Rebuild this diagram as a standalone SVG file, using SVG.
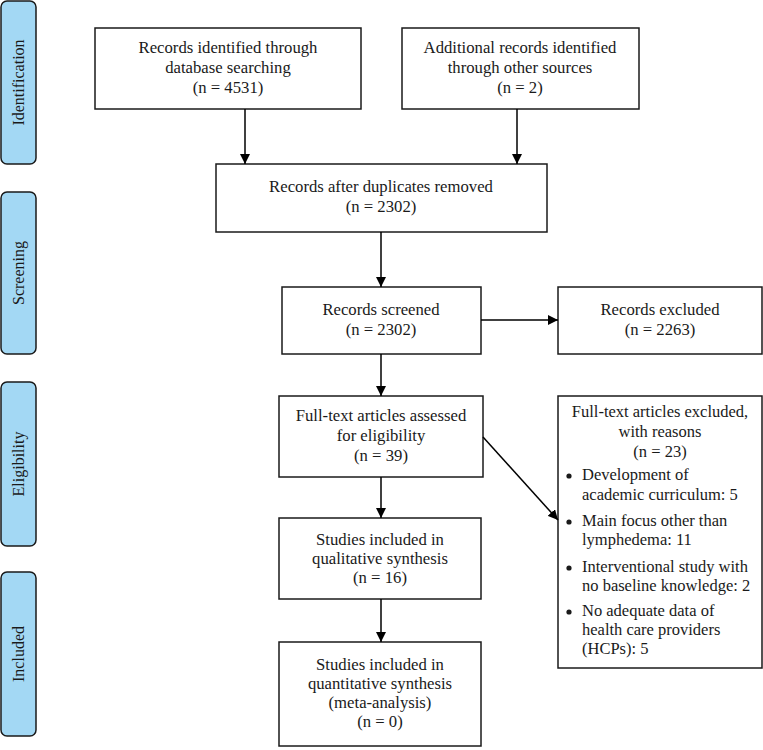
<svg xmlns="http://www.w3.org/2000/svg" width="763" height="750" viewBox="0 0 763 750">
<defs>
<marker id="ah" viewBox="0 0 10 10" refX="10" refY="5" markerWidth="10" markerHeight="10" markerUnits="userSpaceOnUse" orient="auto">
<path d="M0,0 L10,5 L0,10 z" fill="#000"/>
</marker>
<style>
.phase{fill:#a3d8f4;stroke:#1a1a1a;stroke-width:1.5}
.box{fill:#fff;stroke:#1a1a1a;stroke-width:1.5}
text{font-family:"Liberation Serif","Times New Roman",serif;font-size:16.7px;fill:#1a1a1a}
.c{text-anchor:middle}
.ph{text-anchor:middle;font-size:16px}
.ex{font-size:16.5px}
.ln{stroke:#000;stroke-width:1.5;fill:none;marker-end:url(#ah)}
</style>
</defs>
<rect width="763" height="750" fill="#fff"/>
<g id="phase-identification"><rect class="phase" x="1" y="1" width="35" height="163" rx="6"/><text class="ph" transform="translate(24,82.5) rotate(-90)">Identification</text></g>
<g id="phase-screening"><rect class="phase" x="1" y="192" width="35" height="162" rx="6"/><text class="ph" transform="translate(24,273) rotate(-90)">Screening</text></g>
<g id="phase-eligibility"><rect class="phase" x="1" y="382" width="35" height="164" rx="6"/><text class="ph" transform="translate(24,464) rotate(-90)">Eligibility</text></g>
<g id="phase-included"><rect class="phase" x="1" y="572" width="35" height="164" rx="6"/><text class="ph" transform="translate(24,654) rotate(-90)">Included</text></g>

<g id="n-db"><rect class="box" x="95" y="28" width="266" height="81"/>
<text class="c" x="228" y="53">Records identified through</text>
<text class="c" x="228" y="73">database searching</text>
<text class="c" x="228" y="93">(n = 4531)</text></g>
<g id="n-other"><rect class="box" x="402" y="28" width="237" height="81"/>
<text class="c" x="520" y="53">Additional records identified</text>
<text class="c" x="520" y="73">through other sources</text>
<text class="c" x="520" y="93">(n = 2)</text></g>
<g id="n-dup"><rect class="box" x="216" y="164" width="331" height="68"/>
<text class="c" x="381" y="192">Records after duplicates removed</text>
<text class="c" x="381" y="212">(n = 2302)</text></g>
<g id="n-screened"><rect class="box" x="282" y="287" width="199" height="67"/>
<text class="c" x="381" y="315">Records screened</text>
<text class="c" x="381" y="335">(n = 2302)</text></g>
<g id="n-excluded"><rect class="box" x="558" y="287" width="204" height="67"/>
<text class="c" x="660" y="315">Records excluded</text>
<text class="c" x="660" y="335">(n = 2263)</text></g>
<g id="n-fulltext"><rect class="box" x="279" y="396" width="204" height="81"/>
<text class="c" x="381" y="421">Full-text articles assessed</text>
<text class="c" x="381" y="441">for eligibility</text>
<text class="c" x="381" y="461">(n = 39)</text></g>
<g id="n-ftexcluded"><rect class="box" x="558" y="396" width="204" height="272"/>
<text class="c ex" x="660" y="417">Full-text articles excluded,</text>
<text class="c ex" x="660" y="437">with reasons</text>
<text class="c ex" x="660" y="457">(n = 23)</text>
<circle cx="569" cy="476" r="2.6" fill="#1a1a1a"/>
<text class="ex" x="582" y="480">Development of</text>
<text class="ex" x="582" y="500">academic curriculum: 5</text>
<circle cx="569" cy="522" r="2.6" fill="#1a1a1a"/>
<text class="ex" x="582" y="526">Main focus other than</text>
<text class="ex" x="582" y="545">lymphedema: 11</text>
<circle cx="569" cy="568" r="2.6" fill="#1a1a1a"/>
<text class="ex" x="582" y="572">Interventional study with</text>
<text class="ex" x="582" y="591">no baseline knowledge: 2</text>
<circle cx="569" cy="612" r="2.6" fill="#1a1a1a"/>
<text class="ex" x="582" y="616">No adequate data of</text>
<text class="ex" x="582" y="635">health care providers</text>
<text class="ex" x="582" y="654">(HCPs): 5</text></g>
<g id="n-qual"><rect class="box" x="279" y="518" width="202" height="81"/>
<text class="c" x="380" y="545">Studies included in</text>
<text class="c" x="380" y="564">qualitative synthesis</text>
<text class="c" x="380" y="583">(n = 16)</text></g>
<g id="n-quant"><rect class="box" x="279" y="642" width="202" height="104"/>
<text class="c" x="380" y="670">Studies included in</text>
<text class="c" x="380" y="689">quantitative synthesis</text>
<text class="c" x="380" y="708">(meta-analysis)</text>
<text class="c" x="380" y="727">(n = 0)</text></g>

<g id="connectors">
<line class="ln" x1="245" y1="109" x2="245" y2="164"/>
<line class="ln" x1="517" y1="109" x2="517" y2="164"/>
<line class="ln" x1="381" y1="232" x2="381" y2="287"/>
<line class="ln" x1="481" y1="320" x2="558" y2="320"/>
<line class="ln" x1="381" y1="354" x2="381" y2="396"/>
<line class="ln" x1="483" y1="437" x2="558" y2="520"/>
<line class="ln" x1="381" y1="477" x2="381" y2="518"/>
<line class="ln" x1="381" y1="599" x2="381" y2="642"/>
</g>
</svg>
